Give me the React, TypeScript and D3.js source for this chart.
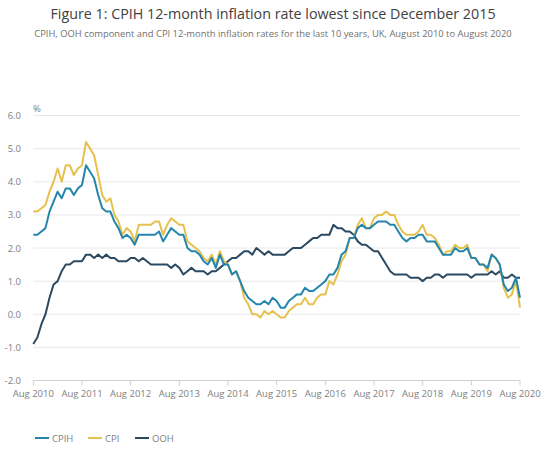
import React from "react";
import * as d3 from "d3";

const xTickLabels = ["Aug 2010","Aug 2011","Aug 2012","Aug 2013","Aug 2014","Aug 2015","Aug 2016","Aug 2017","Aug 2018","Aug 2019","Aug 2020"];
const yTicks = [-2, -1, 0, 1, 2, 3, 4, 5, 6];

// Monthly values, Aug 2010 .. Aug 2020
const cpih = [
  2.4, 2.4, 2.5, 2.6, 3.1,
  3.4, 3.7, 3.5, 3.8, 3.8, 3.6, 3.8, 3.9, 4.5, 4.3, 4.1, 3.6,
  3.2, 3.1, 3.1, 2.8, 2.6, 2.3, 2.4, 2.3, 2.1, 2.4, 2.4, 2.4,
  2.4, 2.4, 2.5, 2.2, 2.4, 2.6, 2.5, 2.4, 2.4, 2.0, 1.9, 1.9,
  1.8, 1.6, 1.5, 1.7, 1.4, 1.8, 1.5, 1.5, 1.2, 1.3, 1.0, 0.7,
  0.5, 0.4, 0.3, 0.3, 0.4, 0.3, 0.5, 0.4, 0.2, 0.2, 0.4, 0.5,
  0.6, 0.6, 0.8, 0.7, 0.7, 0.8, 0.9, 1.0, 1.2, 1.2, 1.4, 1.8,
  1.9, 2.3, 2.3, 2.6, 2.7, 2.6, 2.6, 2.7, 2.8, 2.8, 2.8, 2.7,
  2.7, 2.5, 2.3, 2.2, 2.3, 2.3, 2.4, 2.4, 2.2, 2.2, 2.2, 2.0,
  1.8, 1.8, 1.8, 2.0, 1.9, 1.9, 2.0, 1.7, 1.7, 1.5, 1.5, 1.4,
  1.8, 1.7, 1.5, 0.9, 0.7, 0.8, 1.1, 0.5,
];
const cpi = [
  3.1, 3.1, 3.2, 3.3, 3.7,
  4.0, 4.4, 4.0, 4.5, 4.5, 4.2, 4.4, 4.5, 5.2, 5.0, 4.8, 4.2,
  3.6, 3.4, 3.5, 3.0, 2.8, 2.4, 2.6, 2.5, 2.2, 2.7, 2.7, 2.7,
  2.7, 2.8, 2.8, 2.4, 2.7, 2.9, 2.8, 2.7, 2.7, 2.2, 2.1, 2.0,
  1.9, 1.7, 1.6, 1.8, 1.5, 1.9, 1.6, 1.5, 1.2, 1.3, 1.0, 0.5,
  0.3, 0.0, 0.0, -0.1, 0.1, 0.0, 0.1, 0.0, -0.1, -0.1, 0.1, 0.2,
  0.3, 0.3, 0.5, 0.3, 0.3, 0.5, 0.6, 0.6, 1.0, 0.9, 1.2, 1.6,
  1.8, 2.3, 2.3, 2.7, 2.9, 2.6, 2.6, 2.9, 3.0, 3.0, 3.1, 3.0,
  3.0, 2.7, 2.5, 2.4, 2.4, 2.4, 2.5, 2.7, 2.4, 2.4, 2.3, 2.1,
  1.8, 1.9, 1.9, 2.1, 2.0, 2.0, 2.1, 1.7, 1.7, 1.5, 1.5, 1.3,
  1.8, 1.7, 1.5, 0.8, 0.5, 0.6, 1.0, 0.2,
];
const ooh = [
  -0.9, -0.7, -0.3, 0.0, 0.5,
  0.9, 1.0, 1.3, 1.5, 1.5, 1.6, 1.6, 1.6, 1.8, 1.8, 1.7, 1.8,
  1.7, 1.8, 1.7, 1.7, 1.6, 1.6, 1.6, 1.7, 1.7, 1.6, 1.7, 1.6,
  1.5, 1.5, 1.5, 1.5, 1.5, 1.4, 1.5, 1.4, 1.2, 1.3, 1.4, 1.3,
  1.3, 1.3, 1.2, 1.3, 1.3, 1.4, 1.5, 1.6, 1.7, 1.7, 1.8, 1.9,
  1.9, 1.8, 2.0, 1.9, 1.8, 1.9, 1.8, 1.8, 1.8, 1.8, 1.9, 2.0,
  2.0, 2.0, 2.1, 2.2, 2.3, 2.3, 2.4, 2.4, 2.4, 2.7, 2.6, 2.6,
  2.5, 2.5, 2.4, 2.2, 2.1, 2.1, 2.0, 1.9, 1.9, 1.7, 1.5, 1.3,
  1.2, 1.2, 1.2, 1.2, 1.1, 1.1, 1.1, 1.0, 1.1, 1.1, 1.2, 1.2,
  1.1, 1.2, 1.2, 1.2, 1.2, 1.2, 1.2, 1.1, 1.2, 1.2, 1.2, 1.2,
  1.3, 1.2, 1.3, 1.1, 1.1, 1.2, 1.1, 1.1,
];

const seriesNames = ["CPIH", "CPI", "OOH"];
const seriesColors = ["#2586ad", "#e6c14e", "#2b4a62"];

const W = 550, H = 453;
const FONT = "'Open Sans', sans-serif";

export default function App() {
  const x = d3.scaleLinear().domain([0, 120]).range([33.3, 520]);
  const y = d3.scaleLinear().domain([-2, 6]).range([380.5, 115.5]);
  const line = d3.line<number>().x((_, i) => x(i)).y((d) => y(d));
  const data = [cpih, cpi, ooh];
  const order = [2, 1, 0];
  return (
    <svg width={W} height={H} style={{ position: "absolute", left: 0, top: 0, background: "#fff" }} fontFamily={FONT}>
      <text x={273} y={19} textAnchor="middle" fontSize={14.3} fill="#414042">
        Figure 1: CPIH 12-month inflation rate lowest since December 2015
      </text>
      <text x={273} y={37} textAnchor="middle" fontSize={9.4} fill="#707070">
        CPIH, OOH component and CPI 12-month inflation rates for the last 10 years, UK, August 2010 to August 2020
      </text>
      {yTicks.map((t) => (
        <g key={t}>
          {t !== -2 && (
            <line x1={x(0)} x2={x(120)} y1={y(t)} y2={y(t)} stroke="#e8e8e8" strokeWidth={1} />
          )}
          <text x={21} y={y(t) + 3.5} textAnchor="end" fontSize={9.5} fill="#808080">
            {t.toFixed(1)}
          </text>
        </g>
      ))}
      <text x={33} y={112} fontSize={9.5} fill="#808080">%</text>
      <line x1={x(0)} x2={x(120)} y1={y(-2)} y2={y(-2)} stroke="#d0d0d0" strokeWidth={1} />
      {xTickLabels.map((lab, i) => (
        <g key={lab}>
          <line x1={x(i * 12)} x2={x(i * 12)} y1={y(-2)} y2={y(-2) + 5} stroke="#d0d0d0" strokeWidth={1} />
          <text x={x(i * 12)} y={y(-2) + 16} textAnchor="middle" fontSize={9.5} fill="#808080">
            {lab}
          </text>
        </g>
      ))}
      {order.map((si) => (
        <path key={si} d={line(data[si]) || ""} fill="none" stroke={seriesColors[si]} strokeWidth={2} strokeLinejoin="round" />
      ))}
      {seriesNames.map((n, i) => {
        const lx = [35, 88, 135][i];
        return (
          <g key={n}>
            <line x1={lx} x2={lx + 14} y1={438} y2={438} stroke={seriesColors[i]} strokeWidth={2} />
            <text x={lx + 17} y={441.5} fontSize={9.5} fill="#808080">{n}</text>
          </g>
        );
      })}
    </svg>
  );
}
